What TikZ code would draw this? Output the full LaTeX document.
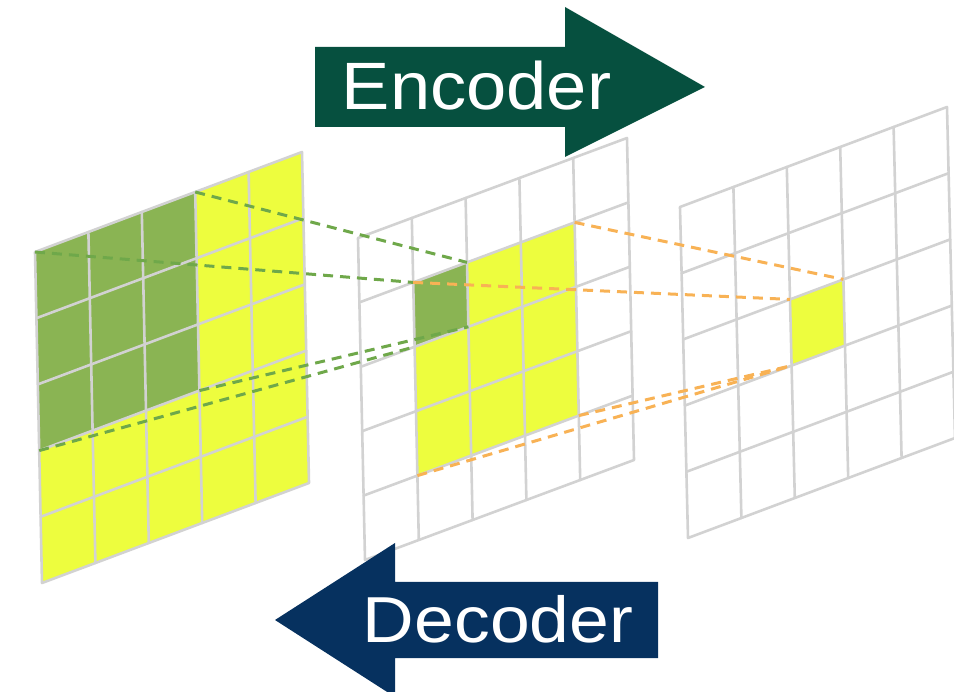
\documentclass[tikz,border=0pt]{standalone}
\usepackage{graphicx}
\usepackage{fontspec}
\setmainfont{Liberation Sans}
\usetikzlibrary{calc}

\definecolor{gridgray}{HTML}{D2D2D2}
\definecolor{cellgreen}{HTML}{8AB453}
\definecolor{cellyellow}{HTML}{EDFD3E}
\definecolor{linkgreen}{HTML}{6FA84A}
\definecolor{linkorange}{HTML}{F8B255}
\definecolor{encgreen}{HTML}{06503F}
\definecolor{decnavy}{HTML}{06315F}

\tikzset{
  gridline/.style={draw=gridgray, line width=2.6pt, line cap=round, line join=round},
  greenlink/.style={draw=linkgreen, line width=3pt, dash pattern=on 10pt off 7pt},
  orangelink/.style={draw=linkorange, line width=3pt, dash pattern=on 10pt off 7pt},
  label/.style={text=white, inner sep=0pt, anchor=base},
}

\begin{document}
\begin{tikzpicture}[x=1pt, y=-1pt]
\clip (0,0) rectangle (954,692);

% corner points of the three 5x5 feature maps
\foreach \i in {0,...,5}{
  \foreach \j in {0,...,5}{
    \coordinate (A-\i-\j) at ($(35,252)+\i*(53.4,-20)+\j*(1.4,66.2)$);
    \coordinate (B-\i-\j) at ($(358,238)+\i*(53.8,-20)+\j*(1.4,64.4)$);
    \coordinate (C-\i-\j) at ($(680,207)+\i*(53.4,-20)+\j*(1.6,66.2)$);
  }
}

% input map: all cells active, 3x3 receptive field highlighted
\fill[cellyellow] (A-0-0) -- (A-5-0) -- (A-5-5) -- (A-0-5) -- cycle;
\fill[cellgreen] (A-0-0) -- (A-3-0) -- (A-3-3) -- (A-0-3) -- cycle;

% middle map
\fill[cellyellow] (B-1-1) -- (B-4-1) -- (B-4-4) -- (B-1-4) -- cycle;
\fill[cellgreen] (B-1-1) -- (B-2-1) -- (B-2-2) -- (B-1-2) -- cycle;

% output map
\fill[cellyellow] (C-2-2) -- (C-3-2) -- (C-3-3) -- (C-2-3) -- cycle;

% grid lines
\foreach \g in {A,B,C}{
  \foreach \k in {1,...,4}{
    \draw[gridline] (\g-\k-0) -- (\g-\k-5);
    \draw[gridline] (\g-0-\k) -- (\g-5-\k);
  }
  \draw[gridline] (\g-0-0) -- (\g-5-0) -- (\g-5-5) -- (\g-0-5) -- cycle;
}

% receptive field projections, input -> middle
\draw[greenlink] (A-3-0) -- (B-2-1);
\draw[greenlink] (A-0-0) -- (B-1-1);
\draw[greenlink] (A-3-3) -- (B-2-2);
\draw[greenlink] (A-0-3) -- (B-1-2);

% middle -> output
\draw[orangelink] (B-4-1) -- (C-3-2);
\draw[orangelink] (B-1-1) -- (C-2-2);
\draw[orangelink] (B-1-4) -- (C-2-3);
\draw[orangelink] (B-4-4) -- (C-2-3);

% direction arrows
\fill[encgreen] (315,47) -- (565,47) -- (565,7) -- (705,87) -- (565,157)
  -- (565,127) -- (315,127) -- cycle;
\node[label, font=\fontsize{67}{67}\selectfont] (enc) at (476.5,110)
  {\scalebox{1.08}[1]{Encoder}};

\fill[decnavy] (658,582) -- (395,582) -- (395,543) -- (275,620) -- (395,697)
  -- (395,658) -- (658,658) -- cycle;
\node[label, font=\fontsize{65}{65}\selectfont] (dec) at (498,642)
  {\scalebox{1.1}[1]{Decoder}};
\end{tikzpicture}
\end{document}
